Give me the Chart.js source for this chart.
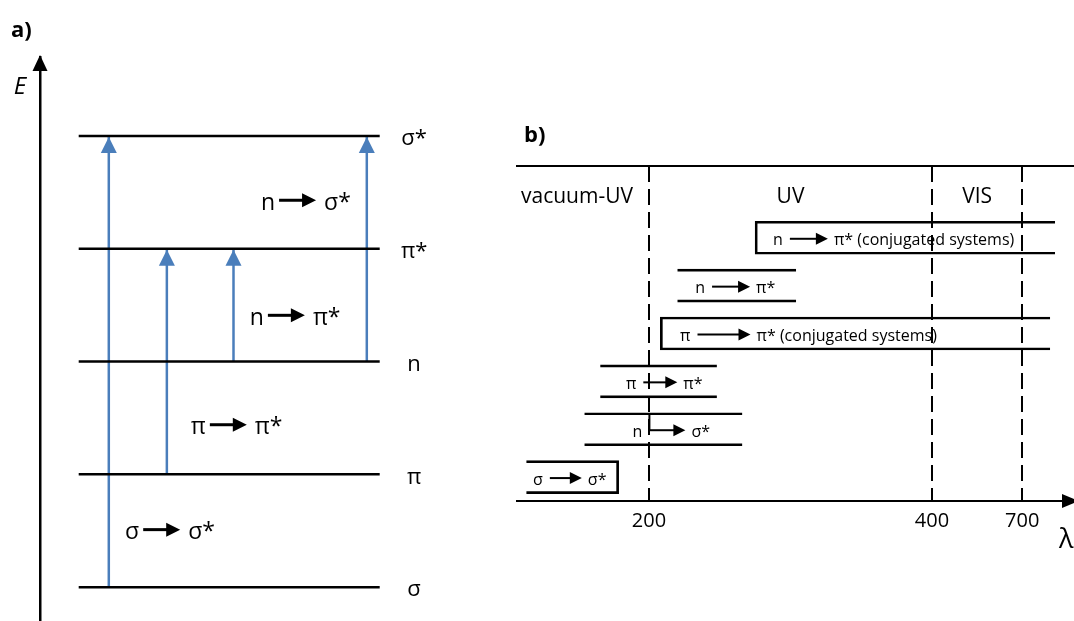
<!DOCTYPE html>
<html>
<head>
<meta charset="utf-8">
<script src="https://cdn.jsdelivr.net/npm/chart.js@4/dist/chart.umd.min.js"></script>
<style>
  body { margin: 0; background: #fff; }
  #wrap { position: relative; width: 1074px; height: 621px; overflow: hidden; }
  #panelA { position: absolute; left: 0; top: 0; }
  #panelB { position: absolute; left: 470px; top: 0; }
</style>
</head>
<body>
<div id="wrap">
  <canvas id="panelA" width="470" height="621"></canvas>
  <canvas id="panelB" width="604" height="621"></canvas>
</div>
<script>
// --- panel a: energy levels and transitions ---
const levelNames = ["σ", "π", "n", "π*", "σ*"];
const levelEnergy = [1, 2, 3, 4, 5];
const transFrom = ["σ", "π", "n", "n"];
const transTo = ["σ*", "π*", "π*", "σ*"];

// --- panel b: wavelength ranges of the transitions ---
const rowFrom = ["n", "n", "π", "π", "n", "σ"];
const rowTo = ["π* (conjugated systems)", "π*", "π* (conjugated systems)", "π*", "σ*", "σ*"];
const rowStartNm = [275, 220, 208, 163, 151, 107];
const rowEndNm = [827, 304, 808, 248, 266, 177];
const regionNames = ["vacuum-UV", "UV", "VIS"];
const regionEdgesNm = [100, 200, 400, 700];
const wavelengthTicks = [200, 400, 700];

// layout (in diagram units)
const levelSpan = [0.9, 7.9];
const levelLabelX = 8.7;
const transX = [1.6, 2.95, 4.5, 7.6];
const transLabelAt = [[2.83, 1.51], [4.38, 2.44], [5.73, 3.41], [5.99, 4.43]];
const rowClosedLeft = [true, false, true, false, false, false];
const rowClosedRight = [false, false, false, false, false, true];
const rowArrowNm = [313, 258, 253, 208, 213, 137];
const rowArrowLen = [38, 38, 53, 34, 36, 32];

const FONT = '"Open Sans", sans-serif';
const BLUE = "#4a7ebb";

function arrowHead(ctx, x0, y0, x1, y1, len, half, color) {
  const a = Math.atan2(y1 - y0, x1 - x0);
  const bx = x1 - len * Math.cos(a), by = y1 - len * Math.sin(a);
  ctx.save();
  ctx.fillStyle = color;
  ctx.beginPath();
  ctx.moveTo(x1, y1);
  ctx.lineTo(bx - half * Math.sin(a), by + half * Math.cos(a));
  ctx.lineTo(bx + half * Math.sin(a), by - half * Math.cos(a));
  ctx.closePath();
  ctx.fill();
  ctx.restore();
}

// "n ──▶ σ*" style label, centred on the arrow
function arrowLabel(ctx, cx, cy, o) {
  const x0 = cx - o.len / 2, x1 = cx + o.len / 2;
  ctx.save();
  ctx.strokeStyle = "#000";
  ctx.lineWidth = o.lw;
  ctx.beginPath();
  ctx.moveTo(x0, cy);
  ctx.lineTo(x1 - o.head + 1, cy);
  ctx.stroke();
  arrowHead(ctx, x0, cy, x1, cy, o.head, o.half, "#000");
  ctx.font = o.font;
  ctx.fillStyle = "#000";
  ctx.textBaseline = "middle";
  ctx.textAlign = "right";
  ctx.fillText(o.left, x0 - o.gapL, cy + o.dy);
  ctx.textAlign = "left";
  ctx.fillText(o.right, x1 + o.gapR, cy + o.dy);
  ctx.restore();
}

function energyOf(name) { return levelEnergy[levelNames.indexOf(name)]; }

// ---------------- panel a ----------------
const datasetsA = [];
levelEnergy.forEach((e) => {
  datasetsA.push({
    data: [{ x: levelSpan[0], y: e }, { x: levelSpan[1], y: e }],
    borderColor: "#000", borderWidth: 2.5
  });
});
transFrom.forEach((f, i) => {
  datasetsA.push({
    data: [{ x: transX[i], y: energyOf(f) }, { x: transX[i], y: energyOf(transTo[i]) }],
    borderColor: BLUE, borderWidth: 2.5, arrow: true
  });
});

const decorA = {
  id: "decorA",
  afterDatasetsDraw(chart) {
    const ctx = chart.ctx;
    chart.data.datasets.forEach((ds, i) => {
      if (!ds.arrow) return;
      const pts = chart.getDatasetMeta(i).data;
      const p = pts[0], q = pts[pts.length - 1];
      arrowHead(ctx, p.x, p.y, q.x, q.y + 1, 16, 8, ds.borderColor);
    });
  },
  afterDraw(chart) {
    const { ctx, chartArea: ca, scales: { x, y } } = chart;
    // energy axis arrow
    arrowHead(ctx, ca.left, ca.top + 20, ca.left, ca.top - 2, 16, 7.5, "#000");
    ctx.save();
    ctx.fillStyle = "#000";
    ctx.textBaseline = "middle";
    ctx.textAlign = "left";
    ctx.font = "bold 22px " + FONT;
    ctx.fillText("a)", ca.left - 29, ca.top - 26);
    ctx.font = "italic 24px " + FONT;
    ctx.textAlign = "center";
    ctx.fillText("E", ca.left - 20, ca.top + 30);
    ctx.font = "22px " + FONT;
    levelNames.forEach((n, i) => {
      ctx.fillText(n, x.getPixelForValue(levelLabelX), y.getPixelForValue(levelEnergy[i]) + 3);
    });
    ctx.restore();
    transFrom.forEach((f, i) => {
      arrowLabel(ctx, x.getPixelForValue(transLabelAt[i][0]), y.getPixelForValue(transLabelAt[i][1]), {
        left: f, right: transTo[i], len: 37, lw: 3, head: 14, half: 7,
        font: "23px " + FONT, gapL: 4, gapR: 8, dy: 3
      });
    });
  }
};

new Chart(document.getElementById("panelA"), {
  type: "scatter",
  data: { datasets: datasetsA.map((d) => Object.assign({ showLine: true, pointRadius: 0, fill: false }, d)) },
  options: {
    responsive: false,
    animation: false,
    events: [],
    layout: { padding: { left: 40, top: 57, right: 0, bottom: 0 } },
    plugins: { legend: { display: false }, tooltip: { enabled: false } },
    scales: {
      x: { type: "linear", min: 0, max: 10, display: false },
      y: {
        type: "linear", min: 0.7, max: 5.7,
        grid: { display: false },
        ticks: { display: false },
        border: { display: true, color: "#000", width: 2.5 },
        afterFit: (s) => { s.width = 0; }
      }
    }
  },
  plugins: [decorA]
});

// ---------------- panel b ----------------
// schematic wavelength axis: piecewise linear between the marked wavelengths
const warpNm = [100, 200, 400, 700, 900];
const warpFrac = [0, 0.237, 0.745, 0.907, 1];
function nmToFrac(v) {
  let i = 1;
  while (i < warpNm.length - 1 && v > warpNm[i]) i++;
  const t = (v - warpNm[i - 1]) / (warpNm[i] - warpNm[i - 1]);
  return warpFrac[i - 1] + t * (warpFrac[i] - warpFrac[i - 1]);
}
class WarpScale extends Chart.LinearScale {
  getPixelForValue(v) {
    return v == null ? NaN : this.getPixelForDecimal(nmToFrac(v));
  }
}
WarpScale.id = "warp";
WarpScale.defaults = Chart.LinearScale.defaults;
Chart.register(WarpScale);

const rows = rowStartNm.map((s, i) => ({ x: [s, rowEndNm[i]], y: i + 1 }));

const decorB = {
  id: "decorB",
  afterDraw(chart) {
    const { ctx, chartArea: ca, scales: { x, y } } = chart;
    // wavelength axis arrow
    arrowHead(ctx, ca.right - 20, ca.bottom, ca.right + 5, ca.bottom, 17, 7, "#000");
    ctx.save();
    ctx.fillStyle = "#000";
    ctx.textBaseline = "middle";
    ctx.font = "bold 22px " + FONT;
    ctx.textAlign = "left";
    ctx.fillText("b)", ca.left + 7, ca.top - 30);
    ctx.font = "27px " + FONT;
    ctx.fillText("λ", ca.right - 15, ca.bottom + 39);
    ctx.font = "21px " + FONT;
    ctx.textAlign = "center";
    regionNames.forEach((r, i) => {
      let cx = (x.getPixelForValue(regionEdgesNm[i]) + x.getPixelForValue(regionEdgesNm[i + 1])) / 2;
      if (i === 0) cx -= 6;
      ctx.fillText(r, cx, y.getPixelForValue(0.15));
    });
    ctx.restore();
    rowFrom.forEach((f, i) => {
      const cx = x.getPixelForValue(rowArrowNm[i]);
      const cy = y.getPixelForValue(i + 1) + 1;
      if (i === 4) {
        // bent arrow starting from the upper edge
        const sx = cx - rowArrowLen[i] / 2;
        ctx.save();
        ctx.strokeStyle = "#000";
        ctx.lineWidth = 2;
        ctx.beginPath();
        ctx.moveTo(sx, cy - 16);
        ctx.lineTo(sx, cy);
        ctx.stroke();
        ctx.restore();
      }
      arrowLabel(ctx, cx, cy, {
        left: f, right: rowTo[i], len: rowArrowLen[i], lw: 2, head: 12, half: 6,
        font: "16px " + FONT, gapL: 7, gapR: 6, dy: 2
      });
    });
  }
};

new Chart(document.getElementById("panelB"), {
  type: "bar",
  data: {
    datasets: [{
      data: rows,
      xAxisID: "x",
      yAxisID: "y",
      backgroundColor: "rgba(0,0,0,0)",
      borderColor: "#000",
      borderSkipped: false,
      borderWidth: (c) => ({
        top: 2, bottom: 2,
        left: rowClosedLeft[c.dataIndex] ? 2 : 0,
        right: rowClosedRight[c.dataIndex] ? 2 : 0
      }),
      barThickness: 33
    }]
  },
  options: {
    indexAxis: "y",
    responsive: false,
    animation: false,
    events: [],
    layout: { padding: { left: 47, top: 166, right: 0, bottom: 0 } },
    plugins: { legend: { display: false }, tooltip: { enabled: false } },
    scales: {
      x: {
        type: "warp", position: "bottom", min: 100, max: 900, offset: false,
        afterBuildTicks: (s) => { s.ticks = wavelengthTicks.map((v) => ({ value: v })); },
        afterFit: (s) => { s.height = 120; },
        grid: { display: true, drawTicks: false, color: "#000", lineWidth: 2 },
        border: { display: true, color: "#000", width: 2, dash: [16, 7] },
        ticks: {
          color: "#000", padding: 8, maxRotation: 0, autoSkip: false,
          font: { family: "Open Sans", size: 20 },
          callback: (v) => String(v)
        }
      },
      xTop: {
        type: "linear", position: "top", offset: false,
        grid: { display: false },
        ticks: { display: false },
        border: { display: true, color: "#000", width: 2 },
        afterFit: (s) => { s.height = 0; }
      },
      y: { type: "linear", reverse: true, min: -0.5, max: 6.5, offset: false, display: false }
    }
  },
  plugins: [decorB]
});
</script>
</body>
</html>
